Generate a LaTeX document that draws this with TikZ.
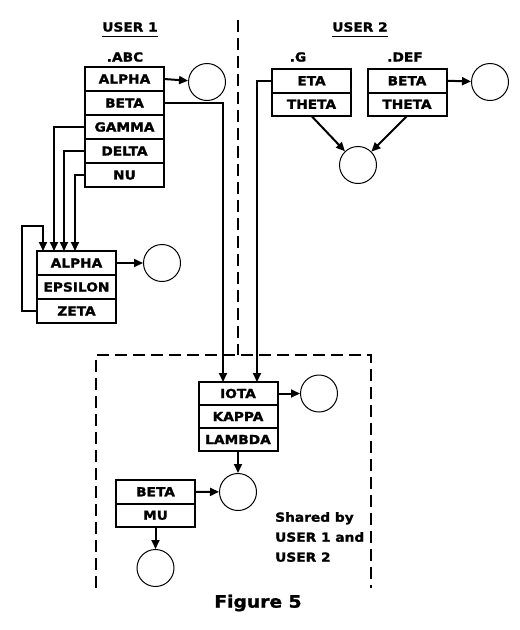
\documentclass[tikz,border=0pt]{standalone}
\usepackage{fontspec}
\setmainfont[FakeStretch=1.1, BoldFeatures={FakeBold=1.5}]{DejaVu Sans}
\usetikzlibrary{positioning,arrows.meta}

\tikzset{
  row/.style={draw, line width=2pt, minimum width=79pt, minimum height=23.5pt,
    inner sep=0pt, outer sep=0pt, font=\fontsize{12.5}{14}\selectfont\bfseries},
  ring/.style={circle, draw, line width=1pt, minimum size=37pt, inner sep=0pt},
  link/.style={line width=2pt, -{Triangle[length=9pt,width=8pt]}},
  fence/.style={line width=2pt, dash pattern=on 12pt off 6pt},
  head/.style={inner sep=0pt, font=\fontsize{12.5}{14}\selectfont\bfseries},
}

\begin{document}
\begin{tikzpicture}[x=1pt, y=-1pt]
  \useasboundingbox (0,0) rectangle (520,630);

  % user 1 side
  \node[head] (user1) at (130,27) {USER 1};
  \draw[line width=1.5pt] ([yshift=-5pt]user1.base west) -- ([yshift=-5pt]user1.base east);
  \node[head] (abcName) at (125,57) {.ABC};
  \node[row, minimum height=24pt] (abc1) at (124.5,79) {ALPHA};
  \node[row, minimum height=24pt, below=0pt of abc1] (abc2) {BETA};
  \node[row, minimum height=24pt, below=0pt of abc2] (abc3) {GAMMA};
  \node[row, minimum height=24pt, below=0pt of abc3] (abc4) {DELTA};
  \node[row, minimum height=24pt, below=0pt of abc4] (abc5) {NU};
  \node[ring] (cAbc) at (207,82) {};

  \node[row, minimum height=24pt] (loc1) at (76.5,263) {ALPHA};
  \node[row, minimum height=24pt, below=0pt of loc1] (loc2) {EPSILON};
  \node[row, minimum height=24pt, below=0pt of loc2] (loc3) {ZETA};
  \node[ring] (cLoc) at (162,263) {};

  % user 2 side
  \node[head] (user2) at (360,27) {USER 2};
  \draw[line width=1.5pt] ([yshift=-5pt]user2.base west) -- ([yshift=-5pt]user2.base east);
  \node[head] (gName) at (298,57) {.G};
  \node[row] (g1) at (311.5,80.75) {ETA};
  \node[row, below=0pt of g1] (g2) {THETA};
  \node[head] (defName) at (405,57) {.DEF};
  \node[row] (def1) at (407,80.75) {BETA};
  \node[row, below=0pt of def1] (def2) {THETA};
  \node[ring] (cDef) at (490,82) {};
  \node[ring] (cTheta) at (358,165) {};

  % shared part
  \node[row, minimum height=23pt] (iota1) at (238,393.5) {IOTA};
  \node[row, minimum height=23pt, below=0pt of iota1] (iota2) {KAPPA};
  \node[row, minimum height=23pt, below=0pt of iota2] (iota3) {LAMBDA};
  \node[ring] (cIota) at (319,393.5) {};
  \node[ring] (cLambda) at (238,492) {};
  \node[row] (bm1) at (155.5,491.75) {BETA};
  \node[row, below=0pt of bm1] (bm2) {MU};
  \node[ring] (cMu) at (155.5,568) {};
  \node[head, anchor=north west, align=left, font=\fontsize{12.5}{20}\selectfont\bfseries]
    (shared) at (275,512) {Shared by\\USER 1 and\\USER 2};
  \node[head, font=\fontsize{17}{18}\selectfont\bfseries] (caption) at (258,603) {Figure 5};

  % fences
  \draw[fence] (238,20) -- (238,355);
  \draw[fence] (96,588) -- (96,355) -- (371,355) -- (371,588);

  % links
  \draw[link] (abc1.east) -- (cAbc);
  \draw[link] (abc2.east) -| ([xshift=-15pt]iota1.north);
  \draw[link] (abc3.west) -| ([xshift=-22.5pt]loc1.north);
  \draw[link] (abc4.west) -| ([xshift=-12.5pt]loc1.north);
  \draw[link] (abc5.west) -| ([xshift=-1.5pt]loc1.north);
  \draw[link] (loc3.west) -- ++(-15,0) |- ([xshift=-33.5pt,yshift=25pt]loc1.north)
    -- ([xshift=-33.5pt]loc1.north);
  \draw[link] (loc1.east) -- (cLoc);
  \draw[link] (g1.west) -| ([xshift=19pt]iota1.north);
  \draw[link] (g2.south) -- (cTheta);
  \draw[link] (def2.south) -- (cTheta);
  \draw[link] (def1.east) -- (cDef);
  \draw[link] (iota1.east) -- (cIota);
  \draw[link] (iota3.south) -- (cLambda);
  \draw[link] (bm1.east) -- (cLambda);
  \draw[link] (bm2.south) -- (cMu);
\end{tikzpicture}
\end{document}
